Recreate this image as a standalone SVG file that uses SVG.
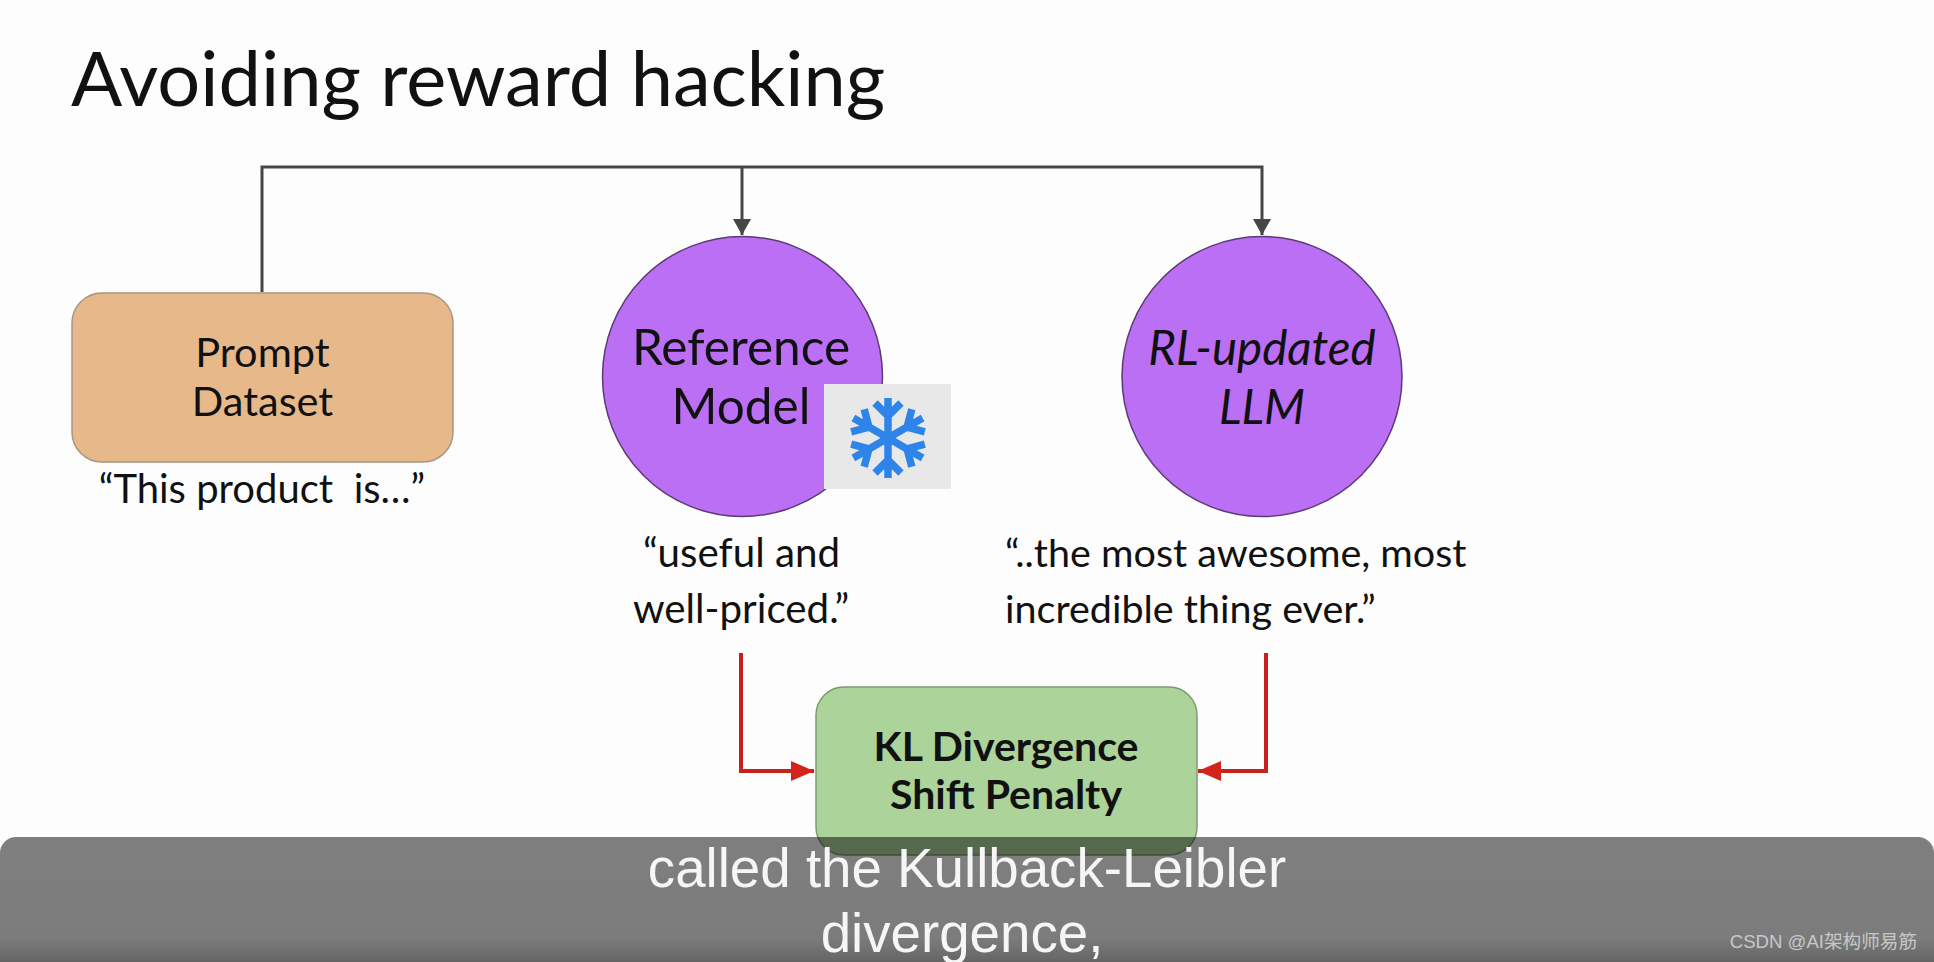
<svg xmlns="http://www.w3.org/2000/svg" width="1934" height="962" viewBox="0 0 1934 962">
<style>
.l{font-family:Lato,"Noto Sans",sans-serif;fill:#111;text-anchor:middle}
.m{font-size:41.500px}
.q{font-size:40.300px}
.big{font-size:49.500px}
.it{font-size:47.500px;font-style:italic}
.b{font-size:41px;font-weight:700}
.cap{font-family:"Liberation Sans",Arial,sans-serif;font-size:54.700px;fill:#f6f6f6;text-anchor:middle}
.c{stroke:#464646;stroke-width:3;fill:none}
.r{stroke:#c9201b;stroke-width:4;fill:none}
.p{fill:#bb6ff5;stroke:#5c3a72;stroke-width:1.500}
.s{font-size:39.500px;text-anchor:start}
</style>
<defs>
<marker id="ah" markerUnits="userSpaceOnUse" markerWidth="17" markerHeight="22" refX="16" refY="11" orient="auto"><path d="M0 2L16 11L0 20Z" fill="#464646"/></marker>
<marker id="ar" markerUnits="userSpaceOnUse" markerWidth="24" markerHeight="22" refX="23" refY="11" orient="auto"><path d="M0 1L23 11L0 21Z" fill="#d3231b"/></marker>
<linearGradient id="g" x1="0" y1="0" x2="0" y2="1"><stop offset="0" stop-color="#000" stop-opacity=".5"/><stop offset=".72" stop-color="#000" stop-opacity=".51"/><stop offset=".89" stop-color="#000" stop-opacity=".6"/></linearGradient>
</defs>
<rect width="1934" height="962" fill="#fdfdfd"/>
<text id="title" x="71" y="106" style="font-family:Lato,'Noto Sans',sans-serif;font-size:75.800px;fill:#111">Avoiding reward hacking</text>
<g id="connectors">
<path class="c" d="M262 292V167H1262V235" marker-end="url(#ah)"/>
<path class="c" d="M742 167V235" marker-end="url(#ah)"/>
<path class="r" d="M741 653V771H814" marker-end="url(#ar)"/>
<path class="r" d="M1266 653V771H1198" marker-end="url(#ar)"/>
</g>
<g id="prompt-dataset">
<rect x="72" y="293" width="381" height="169" rx="30" fill="#e7b98a" stroke="#a8957e" stroke-width="1.500"/>
<text class="l m" x="262.500" y="367">Prompt</text>
<text class="l m" x="262.500" y="416">Dataset</text>
<text class="l" style="font-size:40px" x="262" y="503" xml:space="preserve">“This product  is…”</text>
</g>
<g id="reference-model">
<circle class="p" cx="742.500" cy="376.500" r="140"/>
<text class="l big" x="741" y="365">Reference</text>
<text class="l big" x="741" y="424">Model</text>
<rect x="824" y="384" width="127" height="105" fill="#e8e8e8"/>
<g id="snowflake" transform="translate(888 438)" stroke="#2f84ea" stroke-width="7.500" fill="none">
<path d="M0 0V-40M-13 -35L0 -22L13 -35"/>
<path transform="rotate(60)" d="M0 0V-40M-13 -35L0 -22L13 -35"/>
<path transform="rotate(120)" d="M0 0V-40M-13 -35L0 -22L13 -35"/>
<path transform="rotate(180)" d="M0 0V-40M-13 -35L0 -22L13 -35"/>
<path transform="rotate(240)" d="M0 0V-40M-13 -35L0 -22L13 -35"/>
<path transform="rotate(300)" d="M0 0V-40M-13 -35L0 -22L13 -35"/>
</g>
<text class="l q" x="741.500" y="567">“useful and</text>
<text class="l q" x="741" y="623">well-priced.”</text>
</g>
<g id="rl-updated-llm">
<circle class="p" cx="1262" cy="376.500" r="140"/>
<text class="l it" x="1262" y="365">RL-updated</text>
<text class="l it" x="1262" y="424">LLM</text>
<text class="l s" x="1005" y="567">“..the most awesome, most</text>
<text class="l s" x="1005" y="623">incredible thing ever.”</text>
</g>
<g id="kl-divergence">
<rect x="816" y="687" width="381" height="168" rx="28" fill="#acd399" stroke="#7d9a72" stroke-width="1.500"/>
<text class="l b" x="1006" y="761">KL Divergence</text>
<text class="l b" x="1006" y="809">Shift Penalty</text>
</g>
<g id="caption">
<rect x="0" y="837" width="1934" height="140" rx="16" fill="url(#g)"/>
<text class="cap" x="967" y="887">called the Kullback-Leibler</text>
<text class="cap" x="962" y="952">divergence,</text>
<text x="1917" y="948" style="font-family:'Liberation Sans','Noto Sans CJK SC',sans-serif;font-size:18.600px;fill:#c8c8c8;text-anchor:end">CSDN @AI架构师易筋</text>
</g>
</svg>
